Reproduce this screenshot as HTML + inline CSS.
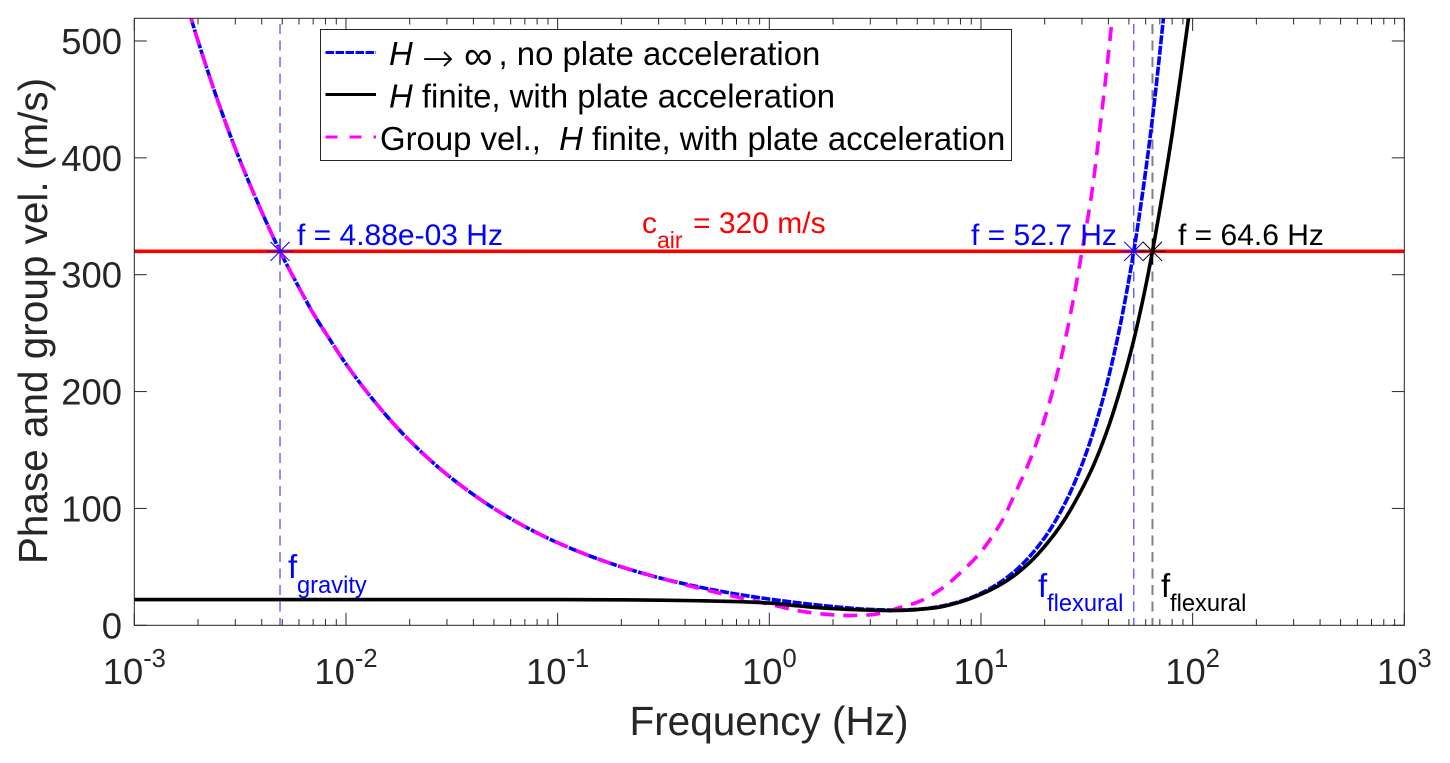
<!DOCTYPE html>
<html lang="en">
<head>
<meta charset="utf-8">
<title>Phase and group velocity vs frequency</title>
<style>
  html, body { margin: 0; padding: 0; background: #fff; }
  body { width: 1450px; height: 763px; overflow: hidden; }
  svg { display: block; font-family: "Liberation Sans", sans-serif; }
  text { white-space: pre; }
</style>
</head>
<body>
<svg id="chart" width="1450" height="763" viewBox="0 0 1450 763" xmlns="http://www.w3.org/2000/svg">
  <defs>
    <clipPath id="plot-clip"><rect x="134.3" y="18.3" width="1270" height="607"/></clipPath>
  </defs>
  <rect x="0" y="0" width="1450" height="763" fill="#fff"/>
  <g id="guides" clip-path="url(#plot-clip)"></g>
  <g id="series" clip-path="url(#plot-clip)"></g>
  <g id="axes"></g>
  <g id="markers"></g>

  <text x="769" y="735" font-size="40.5" fill="#262626" text-anchor="middle">Frequency (Hz)</text>
  <text transform="translate(47,321) rotate(-90)" font-size="40.5" fill="#262626" text-anchor="middle">Phase and group vel. (m/s)</text>

  <text x="297" y="245" font-size="30" fill="#0000ff">f = 4.88e-03 Hz</text>
  <text x="971" y="245" font-size="30" fill="#0000ff">f = 52.7 Hz</text>
  <text x="1178" y="245" font-size="30" fill="#000">f = 64.6 Hz</text>

  <g fill="#ff0000">
    <text x="642" y="233" font-size="30">c</text>
    <text x="657" y="248" font-size="23">air</text>
    <text x="693" y="233" font-size="30">= 320 m/s</text>
  </g>
  <g fill="#0000ff">
    <text x="288" y="578" font-size="33">f</text>
    <text x="297" y="593" font-size="23.7">gravity</text>
  </g>
  <g fill="#0000ff">
    <text x="1038" y="597" font-size="33">f</text>
    <text x="1047" y="611" font-size="23.7">flexural</text>
  </g>
  <g fill="#000">
    <text x="1161" y="597" font-size="33">f</text>
    <text x="1170" y="611" font-size="23.7">flexural</text>
  </g>

  <g id="legend">
    <rect x="320.5" y="29.5" width="691" height="131" fill="#fff" stroke="#262626" stroke-width="1"/>
    <g>
      <line x1="325.5" x2="376" y1="52.5" y2="52.5" stroke="#0000ff" stroke-width="3" stroke-dasharray="8.5 1.5"/>
      <text x="389" y="65" font-size="32.9" font-style="italic" fill="#000">H</text>
      <text x="422" y="71" font-size="38" font-family="'DejaVu Sans', sans-serif" font-weight="200" fill="#000">→</text>
      <text x="464" y="69" font-size="40" font-family="'DejaVu Sans', sans-serif" font-weight="200" fill="#000">∞</text>
      <text x="498.5" y="65" font-size="32.9" fill="#000">, no plate acceleration</text>
    </g>
    <g>
      <line x1="325.5" x2="376" y1="94.5" y2="94.5" stroke="#000" stroke-width="3"/>
      <text x="389" y="107.5" font-size="32.9" fill="#000"><tspan font-style="italic">H</tspan> finite, with plate acceleration</text>
    </g>
    <g>
      <line x1="325.5" x2="376" y1="137" y2="137" stroke="#ff00ff" stroke-width="3" stroke-dasharray="12 12"/>
      <text x="380" y="150" font-size="32.9" fill="#000">Group vel.,  <tspan font-style="italic">H</tspan> finite, with plate acceleration</text>
    </g>
  </g>
</svg>

<script>
// Chart data
const phaseFreqHz = [0.0018,0.002,0.0025,0.003,0.0038,0.00488,0.006,0.007,0.0085,0.01,0.015,0.02,0.03,0.05,0.07,0.1,0.15,0.2,0.3,0.5,0.7,1,1.5,2,3,4,5,6,8,10,12,15,20,25,30,35,40,45,52.7,60,65,72.7,75];
const phaseVelocity = [527,500,447,408,363,320,289,267,243,223.6,182.6,158,129,100,84.5,70.7,57.7,50,40.8,31.6,26.7,22.4,18.4,16,13.6,13,13.7,15.3,20.5,27.4,35.4,48.9,75,104.7,137.5,173.3,211.7,252.6,320,388.9,438,518.6,543];

const finiteFreqHz = [0.001,0.003,0.01,0.03,0.1,0.2,0.3,0.47,0.7,1,1.3,1.57,2,2.6,3.2,3.8,4.6,5.4,6.4,8,10,12,14.3,17.5,21.6,25,28.9,34,40,46,52,58.7,64.6,72,80,88,95.7,100];
const finiteVelocity = [22,22,22,22,22,21.8,21.5,21,20.3,19,17,15.6,14.3,13.3,12.8,12.6,13,14,15.6,20,26.5,33.5,42.3,56,75,91.3,111,136.8,169.7,204.6,239.8,281.8,320,369,420,472,520,547];

const groupFreqHz = [0.0018,0.002,0.0025,0.003,0.0038,0.00488,0.006,0.007,0.0085,0.01,0.015,0.02,0.03,0.05,0.07,0.1,0.15,0.2,0.3,0.47,0.71,1.05,1.38,1.8,2.3,2.95,3.5,4.02,5.05,6.6,8,9.8,11.3,12.9,14,17,20,24,27.6,30,33.2,37,41.6,43];
const groupVelocity = [527,500,447,408,363,320,289,267,243,223.6,182.6,158,129,100,84.5,70.7,57.7,50,40.8,31.5,24,17.2,12.4,9.6,8.4,8.9,11,14.5,20,32,45,61,76,93,107,141,177,230,283,320,367,435,518,545];

const cAir = [320];
const crossingFreqHz = [0.00488, 52.7, 64.6];
const xTickExponents = ["-3","-2","-1","0","1","2","3"];
const yTickValues = [0,100,200,300,400,500];
const xDomainExp = [-3, 3];
const yDomain = [0, 519.4];

const NS = 'http://www.w3.org/2000/svg';
const plot = { left: 134.3, right: 1404.3, top: 18.3, bottom: 625.3 };

function xScale(f) {
  return plot.left + (Math.log10(f) - xDomainExp[0]) / (xDomainExp[1] - xDomainExp[0]) * (plot.right - plot.left);
}
function yScale(v) {
  return plot.bottom - (v - yDomain[0]) / (yDomain[1] - yDomain[0]) * (plot.bottom - plot.top);
}
function make(tag, attrs, parent) {
  const el = document.createElementNS(NS, tag);
  for (const k in attrs) el.setAttribute(k, attrs[k]);
  parent.appendChild(el);
  return el;
}
function smoothPath(freqs, vals) {
  const xs = freqs.map(xScale), ys = vals.map(yScale), n = xs.length;
  const h = [], d = [], m = new Array(n);
  for (let i = 0; i < n - 1; i++) { h[i] = xs[i+1] - xs[i]; d[i] = (ys[i+1] - ys[i]) / h[i]; }
  m[0] = d[0]; m[n-1] = d[n-2];
  for (let i = 1; i < n - 1; i++) {
    if (d[i-1] * d[i] <= 0) { m[i] = 0; continue; }
    const w1 = 2 * h[i] + h[i-1], w2 = h[i] + 2 * h[i-1];
    m[i] = (w1 + w2) / (w1 / d[i-1] + w2 / d[i]);
  }
  let p = 'M' + xs[0].toFixed(2) + ' ' + ys[0].toFixed(2);
  for (let i = 0; i < n - 1; i++) {
    p += 'C' + (xs[i] + h[i]/3).toFixed(2) + ' ' + (ys[i] + m[i]*h[i]/3).toFixed(2) + ' ' +
         (xs[i+1] - h[i]/3).toFixed(2) + ' ' + (ys[i+1] - m[i+1]*h[i]/3).toFixed(2) + ' ' +
         xs[i+1].toFixed(2) + ' ' + ys[i+1].toFixed(2);
  }
  return p;
}

const guides = document.getElementById('guides');
const series = document.getElementById('series');
const axes = document.getElementById('axes');
const markers = document.getElementById('markers');

// Vertical guide lines at the crossing frequencies
crossingFreqHz.forEach(function (f, i) {
  const black = i === 2;
  const g = make('line', {
    x1: xScale(f), x2: xScale(f), y1: 24, y2: plot.bottom,
    stroke: black ? '#808080' : '#5f5ff5',
    'stroke-width': black ? 2 : 1.4,
    'stroke-dasharray': '10 6.5'
  }, guides);
  
  
});

// Air speed line
const airLine = make('line', {
  x1: plot.left, x2: plot.right, y1: yScale(cAir[0]), y2: yScale(cAir[0]),
  stroke: '#ff0000', 'stroke-width': 3.6
}, series);



// Curves
const bluePath = make('path', {
  d: smoothPath(phaseFreqHz, phaseVelocity), fill: 'none', stroke: '#0000ff',
  'stroke-width': 3.6, 'stroke-dasharray': '9 1.5'
}, series);



const magentaPath = make('path', {
  d: smoothPath(groupFreqHz, groupVelocity), fill: 'none', stroke: '#ff00ff',
  'stroke-width': 3.6, 'stroke-dasharray': '14 9'
}, series);



const blackPath = make('path', {
  d: smoothPath(finiteFreqHz, finiteVelocity), fill: 'none', stroke: '#000',
  'stroke-width': 3.6
}, series);



// Axes frame
const frame = make('rect', {
  x: plot.left, y: plot.top, width: plot.right - plot.left, height: plot.bottom - plot.top,
  fill: 'none', stroke: '#262626', 'stroke-width': 1
}, axes);



const tickColor = '#262626';
function tick(x1, y1, x2, y2) {
  const t = make('line', { x1: x1, y1: y1, x2: x2, y2: y2, stroke: tickColor, 'stroke-width': 1 }, axes);
  
  
}

// X ticks (log decades + minors)
xTickExponents.forEach(function (e) {
  const exp = Number(e);
  const x = xScale(Math.pow(10, exp));
  tick(x, plot.bottom, x, plot.bottom - 12.5);
  tick(x, plot.top, x, plot.top + 12.5);
  if (exp < xDomainExp[1]) {
    for (let k = 2; k <= 9; k++) {
      const xm = xScale(k * Math.pow(10, exp));
      tick(xm, plot.bottom, xm, plot.bottom - 6.2);
      tick(xm, plot.top, xm, plot.top + 6.2);
    }
  }
  const lab = make('text', { x: x, y: 684, 'font-size': 36.4, fill: tickColor, 'text-anchor': 'middle' }, axes);
  
  
  const base = make('tspan', {}, lab);
  base.textContent = '10';
  const sup = make('tspan', { dy: -17, 'font-size': 25.5 }, lab);
  sup.textContent = e;
});

// Y ticks
yTickValues.forEach(function (v) {
  const y = yScale(v);
  tick(plot.left, y, plot.left + 12.5, y);
  tick(plot.right, y, plot.right - 12.5, y);
  const lab = make('text', { x: 122, y: y + 13, 'font-size': 36.4, fill: tickColor, 'text-anchor': 'end' }, axes);
  
  
  lab.textContent = String(v);
});

// Star markers at crossings
crossingFreqHz.forEach(function (f, i) {
  const cx = xScale(f), cy = yScale(cAir[0]);
  const color = i === 2 ? '#000' : '#0000ff';
  const g = make('g', { stroke: color, 'stroke-width': 1, fill: 'none' }, markers);
  
  
  const r = 13, q = 9.6;
  make('path', {
    d: 'M' + (cx - r) + ' ' + cy + 'L' + (cx + r) + ' ' + cy +
       'M' + cx + ' ' + (cy - r) + 'L' + cx + ' ' + (cy + r) +
       'M' + (cx - q) + ' ' + (cy - q) + 'L' + (cx + q) + ' ' + (cy + q) +
       'M' + (cx - q) + ' ' + (cy + q) + 'L' + (cx + q) + ' ' + (cy - q)
  }, g);
});
</script>
</body>
</html>
